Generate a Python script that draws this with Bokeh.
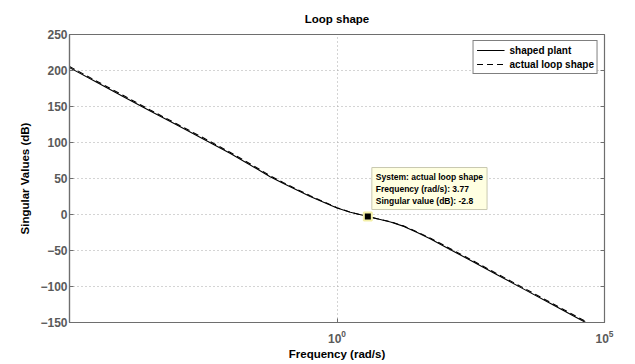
from bokeh.plotting import figure
from bokeh.models import (Range1d, FixedTicker, LinearAxis, Label,
                          Legend, LegendItem, ColumnDataSource, CustomJSTickFormatter)
from bokeh.embed import file_html
from bokeh.resources import INLINE

# ---- data ----
freq = [1e-5, 3.162e-5, 1e-4, 3.162e-4, 1e-3, 3.162e-3, 1e-2, 3.162e-2,
        5.623e-2, 0.1, 0.1778, 0.3162, 0.5623, 1.0, 1.778, 3.162, 5.623,
        10.0, 17.78, 31.62, 56.23, 100.0, 316.2, 1e3, 3162.0, 1e4, 31620.0, 1e5]
shaped_db = [204, 184, 164, 144, 124.5, 105, 85, 63.5,
             52.5, 43, 34, 25, 17, 9, 3, -1.5, -6,
             -10.5, -16.5, -25, -34, -44, -64, -84, -104, -124, -144, -164]
actual_db = [205.5, 185.5, 165.5, 145.5, 126, 106.5, 86.5, 65,
             53.8, 44.2, 35, 26, 17.7, 9.5, 3.2, -1.5, -5.8,
             -10, -16, -24.2, -33, -42.8, -62.6, -82.6, -102.6, -122.6, -142.6, -162.6]
tip_freq = 3.77
tip_db = -2.8
y_ticks = [-150, -100, -50, 0, 50, 100, 150, 200, 250]
x_ticks = [1.0, 1e5]
x_grid_ticks = [1.0]

FONT = "Liberation Sans"
TICK_GRAY = "#5a5a5a"
AXIS_GRAY = "#6e6e6e"

p = figure(frame_width=535, frame_height=288,
           min_border_left=69, min_border_top=33, min_border_right=20, min_border_bottom=40,
           x_axis_type="log", x_range=Range1d(1e-5, 1e5), y_range=Range1d(-150, 250),
           output_backend="svg", toolbar_location=None, title="Loop shape")

p.title.align = "center"
p.title.text_font = FONT
p.title.text_font_size = "11.5px"
p.title.text_font_style = "bold"
p.title.text_color = "black"
p.title.standoff = 20

p.outline_line_color = AXIS_GRAY
p.outline_line_width = 1.2
p.background_fill_color = "white"
p.border_fill_color = "white"

# axes
xa = p.xaxis[0]
xa.ticker = FixedTicker(ticks=x_ticks, minor_ticks=[])
xa.axis_label = "Frequency (rad/s)"
ya = p.yaxis[0]
ya.ticker = FixedTicker(ticks=y_ticks, minor_ticks=[])
ya.axis_label = "Singular Values (dB)"
for ax in (xa, ya):
    ax.axis_line_color = AXIS_GRAY
    ax.axis_line_width = 1.2
    ax.major_tick_in = 4
    ax.major_tick_out = 0
    ax.major_tick_line_color = AXIS_GRAY
    ax.minor_tick_line_color = None
    ax.major_label_text_font = FONT
    ax.major_label_text_font_style = "bold"
    ax.major_label_text_font_size = "12px"
    ax.major_label_text_color = TICK_GRAY
    ax.axis_label_text_font = FONT
    ax.axis_label_text_font_style = "bold"
    ax.axis_label_text_font_size = "11.5px"
    ax.axis_label_text_color = "black"
xa.major_label_standoff = 7
xa.axis_label_standoff = 2
ya.major_label_standoff = 2
ya.axis_label_standoff = 6

# box ticks on the right
empty = CustomJSTickFormatter(code="return ''")
ra = LinearAxis(ticker=FixedTicker(ticks=y_ticks, minor_ticks=[]), formatter=empty,
                major_tick_in=4, major_tick_out=0, major_tick_line_color=AXIS_GRAY,
                minor_tick_line_color=None, axis_line_color=None, major_label_standoff=0)
p.add_layout(ra, "right")

# grid
p.xgrid.ticker = FixedTicker(ticks=x_grid_ticks, minor_ticks=[])
p.ygrid.ticker = FixedTicker(ticks=y_ticks[1:-1], minor_ticks=[])
for g in (p.xgrid[0], p.ygrid[0]):
    g.grid_line_color = "#a8a8a8"
    g.grid_line_dash = "1 3"
    g.grid_line_width = 1

src = ColumnDataSource(dict(f=freq, s=shaped_db, a=actual_db))
r1 = p.line("f", "s", source=src, line_color="black", line_width=1.1)
r2 = p.line("f", "a", source=src, line_color="black", line_width=1.1, line_dash="6 4")

legend = Legend(items=[LegendItem(label="shaped plant", renderers=[r1]),
                       LegendItem(label="actual loop shape", renderers=[r2])],
                location="top_right", margin=6, padding=3, spacing=2,
                glyph_width=28, glyph_height=12, label_height=12, label_standoff=5,
                label_text_font=FONT, label_text_font_style="bold",
                label_text_font_size="10px", label_text_color="black",
                border_line_color="black", border_line_width=1.2,
                background_fill_color="white", background_fill_alpha=1)
p.add_layout(legend)

# data tip
p.scatter([tip_freq], [tip_db], marker="square", size=8, fill_color="black",
          line_color="#f4f0a8", line_width=2)
tip = Label(x=tip_freq, y=tip_db, x_offset=4, y_offset=7,
            text="System: actual loop shape\nFrequency (rad/s): " + str(tip_freq)
                 + "\nSingular value (dB): " + str(tip_db),
            text_font=FONT, text_font_style="bold", text_font_size="8.5px",
            text_color="black", text_baseline="bottom", text_align="left",
            background_fill_color="#ffffe1", border_line_color="#c9c9b0",
            border_line_width=1, padding=4)
p.add_layout(tip)

open("out.html", "w").write(file_html(p, INLINE))
